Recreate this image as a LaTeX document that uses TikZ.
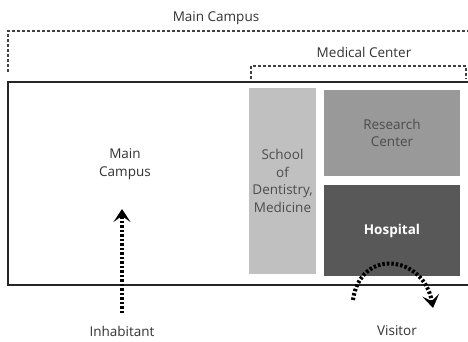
\documentclass[tikz,border=0pt]{standalone}
\usepackage{fontspec}
\setmainfont{Open Sans}
\usepackage{xcolor}
\usepackage{tikz}
\usetikzlibrary{arrows.meta, positioning, calc}
\definecolor{labelgray}{RGB}{50, 50, 50}
\definecolor{schoolgray}{RGB}{192, 192, 192}
\definecolor{researchgray}{RGB}{153, 153, 153}
\definecolor{hospitalgray}{RGB}{88, 88, 88}

\begin{document}
\begin{tikzpicture}[
          x=1pt, y=1pt,
          every node/.style={font=\fontsize{13.5}{17.5}\selectfont, text=labelgray, align=center},
          zone/.style={draw=black!75, line width=1.3pt, dash pattern=on 3pt off 2pt},
          campus/.style={draw=black!85, line width=1.5pt},
          bldg/.style={rectangle, inner sep=0pt, text=black!70},
          flow/.style={line width=4.5pt, dash pattern=on 2.5pt off 2pt, -{Stealth[length=13pt, width=17pt, inset=6pt]}}
        ]
          \useasboundingbox (0,0) rectangle (468,341);

          % Campus zones (dashed)
          \node (maintitle) at (216,323) {Main Campus};
          \draw[zone] (8,269) -- (8,310) -- (470,310);
          \node (medtitle) at (364,289) {Medical Center};
          \draw[zone] (251,262) -- (251,275) -- (466,275) -- (466,262);

          % Main campus ground
          \draw[campus] (470,259) -- (8,259) -- (8,56) -- (470,56);
          \node (campus) at (125,177) {Main\\Campus};

          % Buildings
          \node[bldg, fill=schoolgray, minimum width=67pt, minimum height=186pt] (school) at (282.5,160) {School\\of\\Dentistry,\\Medicine};
          \node[bldg, fill=researchgray, minimum width=136pt, minimum height=86pt] (research) at (392,208) {Research\\Center};
          \node[bldg, fill=hospitalgray, minimum width=136pt, minimum height=91pt, text=white, font=\fontsize{13.5}{15}\selectfont\bfseries] (hospital) at (392,110.5) {Hospital};

          % Users
          \node (inhabitant) at (122,10) {Inhabitant};
          \node (visitor) at (397,10) {Visitor};
          \coordinate (instart) at (122,28);
          \coordinate (inend) at (122,132);
          \coordinate (vstart) at (353,41);
          \coordinate (vend) at (433,33);

          \draw[flow] (instart) -- (inend);
          \draw[flow, line width=4pt] (vstart) to[out=82, in=100, looseness=1.7] (vend);
        \end{tikzpicture}
\end{document}
